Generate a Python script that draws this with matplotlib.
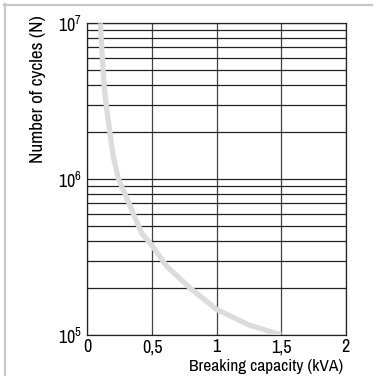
import matplotlib
matplotlib.use('Agg')
import numpy as np
from matplotlib import pyplot as plt
from matplotlib.lines import Line2D

plt.rcParams['font.family'] = ['Archivo Narrow', 'Liberation Sans', 'DejaVu Sans']
plt.rcParams['font.weight'] = 'medium'

capacity = [0.1, 0.112, 0.13, 0.15, 0.175, 0.2, 0.24, 0.3, 0.355, 0.42, 0.5, 0.615, 0.795, 1.0, 1.25, 1.5]
cycles = [1.0e7, 6.5e6, 3.9e6, 2.75e6, 1.95e6, 1.39e6, 1.0e6, 7.7e5, 6.0e5, 4.5e5,
          3.75e5, 2.75e5, 2.0e5, 1.46e5, 1.16e5, 1.0e5]
xticks = [0, 0.5, 1, 1.5, 2]
xticklabels = ['0', '0,5', '1', '1,5', '2']
yticks = [1e5, 1e6, 1e7]
yticklabels = [r'$\mathregular{10^{5}}$', r'$\mathregular{10^{6}}$', r'$\mathregular{10^{7}}$']

fig = plt.figure(figsize=(3.76, 3.76), dpi=100)
ax = fig.add_axes([0.2327, 0.109, 0.6867, 0.829])

ax.set_yscale('log')
ax.set_xlim(0, 2)
ax.set_ylim(1e5, 1e7)

ax.grid(True, which='both', axis='y', color='#222222', lw=0.9)
ax.grid(True, which='major', axis='x', color='#444444', lw=0.9)
ax.set_axisbelow(True)

ax.plot(capacity, cycles, color='#dcdcdc', lw=3.8, solid_capstyle='butt', zorder=3)

ax.set_xticks(xticks)
ax.set_xticklabels(xticklabels, fontsize=13)
ax.set_yticks(yticks)
ax.set_yticklabels(yticklabels, fontsize=13)
ax.tick_params(which='both', length=0)
ax.tick_params(axis='x', pad=3)
ax.tick_params(axis='y', pad=4)
for s in ax.spines.values():
    s.set_color('#222222')
    s.set_linewidth(0.9)

fig.text(343 / 376, 1 - 366 / 376, 'Breaking capacity (kVA)', ha='right', va='center', fontsize=12.5)
fig.text(38 / 376, 1 - 89 / 376, 'Number of cycles (N)', ha='center', va='center',
         rotation=90, fontsize=13.8)

# light frame (top and left edges only)
fig.add_artist(Line2D([4 / 376, 372 / 376], [1 - 4.5 / 376, 1 - 4.5 / 376], color='#c8c8c8', lw=1.6))
fig.add_artist(Line2D([4.5 / 376, 4.5 / 376], [0, 1 - 4 / 376], color='#c8c8c8', lw=1.6))

fig.savefig('out.png', dpi=100)
